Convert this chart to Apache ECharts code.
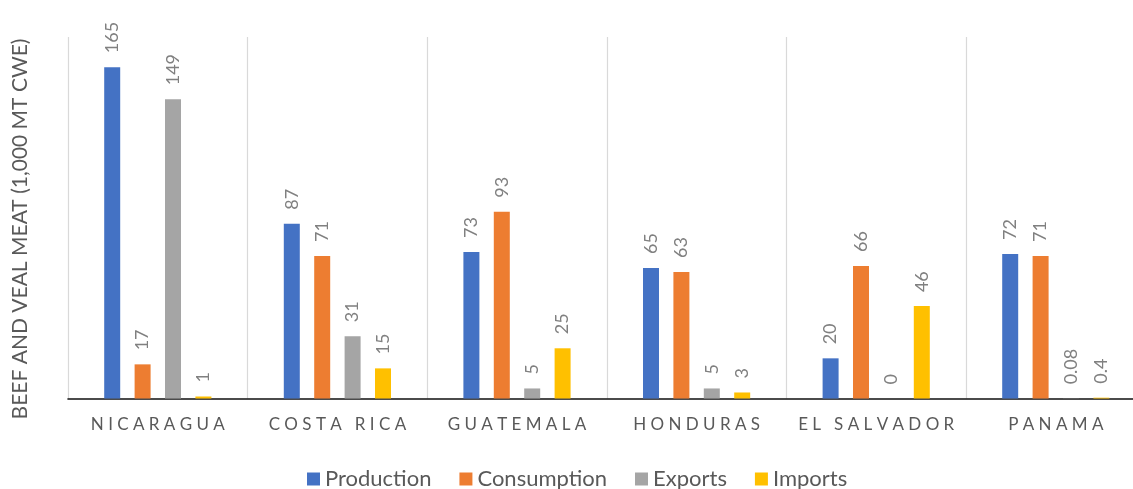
<!DOCTYPE html>
<html>
<head>
<meta charset="utf-8">
<script src="https://cdn.jsdelivr.net/npm/echarts@6/dist/echarts.min.js"></script>
<style>
  html, body { margin: 0; padding: 0; background: #fff; }
  #chart { width: 1133px; height: 489px; }
</style>
</head>
<body>
<div id="chart"></div>
<script>
// Beef and veal meat by country (1,000 MT CWE)
const countries = ['NICARAGUA', 'COSTA RICA', 'GUATEMALA', 'HONDURAS', 'EL SALVADOR', 'PANAMA'];
const production  = [165, 87, 73, 65, 20, 72];
const consumption = [17, 71, 93, 63, 66, 71];
const exportsData = [149, 31, 5, 5, 0, 0.08];
const importsData = [1, 15, 25, 3, 46, 0.4];
const yAxisTitle = 'BEEF AND VEAL MEAT (1,000 MT CWE)';

const FONT = 'Lato, "Liberation Sans", sans-serif';

// spread letters apart for the category captions
function spaced(s) {
  return s.split(' ').map(w => w.split('').join(' ')).join('   ');
}

function barSeries(name, data, color) {
  return {
    name: name,
    type: 'bar',
    data: data,
    barWidth: 16,
    barGap: '90%',
    itemStyle: { color: color },
    label: {
      show: true,
      position: 'top',
      rotate: 90,
      align: 'left',
      verticalAlign: 'middle',
      distance: 14,
      color: '#808080',
      fontFamily: FONT,
      fontSize: 18,
      formatter: p => String(p.value)
    }
  };
}

const chart = echarts.init(document.getElementById('chart'), null, { renderer: 'canvas' });
chart.setOption({
  animation: false,
  textStyle: { fontFamily: FONT },
  // the plot runs slightly past the right edge of the canvas
  grid: {
    left: 68, width: 1077.6, top: 37, bottom: 90.5,
    containLabel: false, outerBoundsMode: 'none'
  },
  legend: {
    left: 302,
    bottom: -6,
    itemWidth: 13,
    itemHeight: 13,
    itemGap: 28,
    icon: 'rect',
    textStyle: { color: '#595959', fontSize: 22, fontFamily: FONT },
    data: ['Production', 'Consumption', 'Exports', 'Imports']
  },
  xAxis: {
    type: 'category',
    data: countries,
    axisLine: { show: true, lineStyle: { color: '#111', width: 1.6 } },
    axisTick: { show: false },
    splitLine: { show: true, interval: 0, lineStyle: { color: '#d9d9d9', width: 1.2 } },
    axisLabel: {
      interval: 0,
      color: '#595959',
      fontSize: 17,
      fontFamily: FONT,
      margin: 18,
      formatter: v => spaced(v)
    }
  },
  yAxis: {
    type: 'value',
    min: 0,
    max: 180,
    show: false
  },
  graphic: [{
    type: 'text',
    x: 20,
    y: 229,
    rotation: Math.PI / 2,
    style: {
      text: yAxisTitle,
      fill: '#595959',
      font: '21px ' + FONT,
      align: 'center',
      verticalAlign: 'middle'
    }
  }],
  series: [
    barSeries('Production', production, '#4472C4'),
    barSeries('Consumption', consumption, '#ED7D31'),
    barSeries('Exports', exportsData, '#A5A5A5'),
    barSeries('Imports', importsData, '#FFC000')
  ]
});
</script>
</body>
</html>
